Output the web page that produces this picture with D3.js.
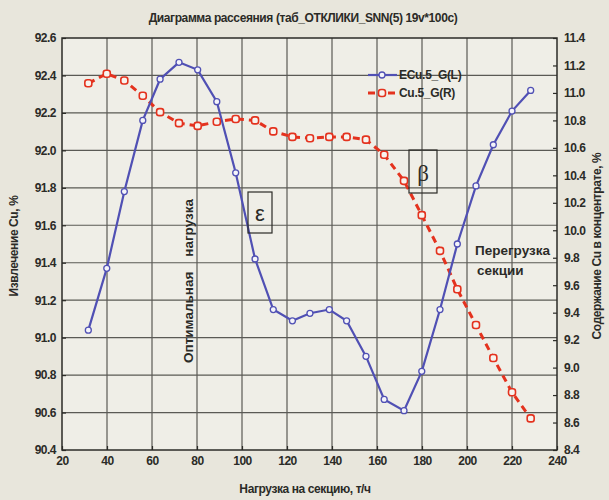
<!DOCTYPE html>
<html><head><meta charset="utf-8">
<script src="https://cdn.jsdelivr.net/npm/d3@7"></script>
<style>
html,body{margin:0;padding:0;background:#e8e6dc;}
svg{display:block;font-family:"Liberation Sans",Arial,sans-serif;}
</style></head>
<body>
<svg id="chart" width="609" height="500"></svg>
<script>
const loads = [31.7,39.9,47.7,55.9,63.6,72.0,80.3,88.8,97.2,105.8,113.9,122.4,130.2,138.8,146.5,155.1,163.2,172.0,179.9,188.0,195.7,204.0,211.7,220.0,228.3];
const extraction = [91.04,91.37,91.78,92.16,92.38,92.47,92.43,92.26,91.88,91.42,91.15,91.09,91.13,91.15,91.09,90.90,90.67,90.61,90.82,91.15,91.50,91.81,92.03,92.21,92.32];
const concentrate = [11.07,11.14,11.09,10.98,10.86,10.78,10.76,10.79,10.81,10.80,10.72,10.68,10.67,10.68,10.68,10.66,10.55,10.36,10.11,9.85,9.57,9.31,9.07,8.82,8.63];
const xTicks = [20,40,60,80,100,120,140,160,180,200,220,240];
const yLeftTicks = [90.4,90.6,90.8,91.0,91.2,91.4,91.6,91.8,92.0,92.2,92.4,92.6];
const yRightTicks = [8.4,8.6,8.8,9.0,9.2,9.4,9.6,9.8,10.0,10.2,10.4,10.6,10.8,11.0,11.2,11.4];
const seriesNames = ["ECu.5_G(L)","Cu.5_G(R)"];

const svg = d3.select("#chart");
const L = 62, R = 557, T = 38, B = 450;
const x = d3.scaleLinear().domain([20,240]).range([L,R]);
const yL = d3.scaleLinear().domain([90.4,92.6]).range([B,T]);
const yR = d3.scaleLinear().domain([8.4,11.4]).range([B,T]);
const blue = "#5050b4", red = "#e4321e", ink = "#2b2b27", gridC = "#5a5a55";

svg.append("rect").attr("x",L).attr("y",T).attr("width",R-L).attr("height",B-T).attr("fill","#efeee7");

// grid
const g = svg.append("g");
g.selectAll(".vg").data(xTicks.slice(1,-1)).join("line")
  .attr("x1",d=>x(d)).attr("x2",d=>x(d)).attr("y1",T).attr("y2",B)
  .attr("stroke",gridC).attr("stroke-width",1.2);
g.selectAll(".hg").data(yLeftTicks.slice(1,-1)).join("line")
  .attr("x1",L).attr("x2",R).attr("y1",d=>yL(d)).attr("y2",d=>yL(d))
  .attr("stroke",gridC).attr("stroke-width",1.2);

// axes
const fmt = d3.format(".1f");
const axL = svg.append("g").attr("transform",`translate(${L},0)`)
  .call(d3.axisLeft(yL).tickValues(yLeftTicks).tickFormat(fmt).tickSize(-4).tickPadding(6));
const axR = svg.append("g").attr("transform",`translate(${R},0)`)
  .call(d3.axisRight(yR).tickValues(yRightTicks).tickFormat(fmt).tickSize(-4).tickPadding(7));
const axB = svg.append("g").attr("transform",`translate(0,${B})`)
  .call(d3.axisBottom(x).tickValues(xTicks).tickFormat(d3.format("d")).tickSize(-4).tickPadding(6));
[axL,axR,axB].forEach(a=>{
  a.select(".domain").remove();
  a.selectAll(".tick line").attr("stroke",ink).attr("stroke-width",1.2);
  a.selectAll("text").attr("fill",ink).attr("font-size",12).attr("font-weight","bold").attr("letter-spacing","-0.5");
});
axL.selectAll("text").attr("dy","0.32em");
axR.selectAll("text").attr("dy","0.32em");

svg.append("rect").attr("x",L).attr("y",T).attr("width",R-L).attr("height",B-T)
  .attr("fill","none").attr("stroke",ink).attr("stroke-width",1.5);

// series
const lineB = d3.line().x((d,i)=>x(loads[i])).y(d=>yL(d));
const lineR = d3.line().x((d,i)=>x(loads[i])).y(d=>yR(d));
svg.append("path").datum(concentrate).attr("d",lineR).attr("fill","none")
  .attr("stroke",red).attr("stroke-width",3).attr("stroke-dasharray","7,5");
svg.append("path").datum(extraction).attr("d",lineB).attr("fill","none")
  .attr("stroke",blue).attr("stroke-width",2.2);
svg.selectAll(".pr").data(concentrate).join("rect")
  .attr("x",(d,i)=>x(loads[i])-3.5).attr("y",d=>yR(d)-3.5).attr("width",7).attr("height",7).attr("rx",2.5)
  .attr("fill","#f7f3ee").attr("stroke",red).attr("stroke-width",1.6);
svg.selectAll(".pb").data(extraction).join("circle")
  .attr("cx",(d,i)=>x(loads[i])).attr("cy",d=>yL(d)).attr("r",3)
  .attr("fill","#f4f4fa").attr("stroke",blue).attr("stroke-width",1.3);

// legend
const lg = svg.append("g");
[[75,blue,null],[93,red,"7,3"]].forEach((r,i)=>{
  lg.append("line").attr("x1",368).attr("x2",397).attr("y1",r[0]).attr("y2",r[0])
    .attr("stroke",r[1]).attr("stroke-width",i?3:2.2).attr("stroke-dasharray",r[2]);
  if(i===0) lg.append("circle").attr("cx",382).attr("cy",r[0]).attr("r",3).attr("fill","#f4f4fa").attr("stroke",blue).attr("stroke-width",1.3);
  else lg.append("rect").attr("x",378.5).attr("y",r[0]-3.5).attr("width",7).attr("height",7).attr("rx",2.5).attr("fill","#f7f3ee").attr("stroke",red).attr("stroke-width",1.6);
  lg.append("text").attr("x",399).attr("y",r[0]+4).attr("font-size",12).attr("font-weight","bold")
    .attr("fill",ink).attr("letter-spacing","-0.3").text(seriesNames[i]);
});

// annotations
svg.append("rect").attr("x",248).attr("y",192).attr("width",24).attr("height",41)
  .attr("fill","none").attr("stroke",ink).attr("stroke-width",1.2);
svg.append("text").attr("x",260).attr("y",221).attr("text-anchor","middle").attr("font-size",22)
  .attr("fill",ink).text("ε");
svg.append("rect").attr("x",409).attr("y",150).attr("width",28).attr("height",43)
  .attr("fill","none").attr("stroke",ink).attr("stroke-width",1.2);
svg.append("text").attr("x",423).attr("y",181).attr("text-anchor","middle").attr("font-size",23)
  .attr("font-family","'Liberation Serif','DejaVu Serif',serif").attr("fill",ink).text("β");
svg.append("text").attr("transform","translate(193,281) rotate(-90)").attr("text-anchor","middle")
  .attr("font-size",13.5).attr("font-weight","bold").attr("fill",ink).attr("xml:space","preserve")
  .text("Оптимальная    нагрузка");
svg.append("text").attr("x",475).attr("y",255).attr("font-size",13.5).attr("font-weight","bold").attr("fill",ink).text("Перегрузка");
svg.append("text").attr("x",477).attr("y",275).attr("font-size",13.5).attr("font-weight","bold").attr("fill",ink).text("секции");

// titles
svg.append("text").attr("x",303).attr("y",22).attr("text-anchor","middle").attr("font-size",12)
  .attr("font-weight","bold").attr("fill",ink).attr("letter-spacing","-0.4")
  .text("Диаграмма рассеяния (таб_ОТКЛИКИ_SNN(5) 19v*100c)");
svg.append("text").attr("x",305).attr("y",493).attr("text-anchor","middle").attr("font-size",12)
  .attr("font-weight","bold").attr("fill",ink).attr("letter-spacing","-0.4").text("Нагрузка на секцию, т/ч");
svg.append("text").attr("transform","translate(18,246) rotate(-90)").attr("text-anchor","middle").attr("font-size",12)
  .attr("font-weight","bold").attr("fill",ink).attr("letter-spacing","-0.4").text("Извлечение Cu, %");
svg.append("text").attr("transform","translate(601,246) rotate(-90)").attr("text-anchor","middle").attr("font-size",12)
  .attr("font-weight","bold").attr("fill",ink).attr("letter-spacing","-0.4").text("Содержание Cu в концентрате, %");
</script>
</body></html>
